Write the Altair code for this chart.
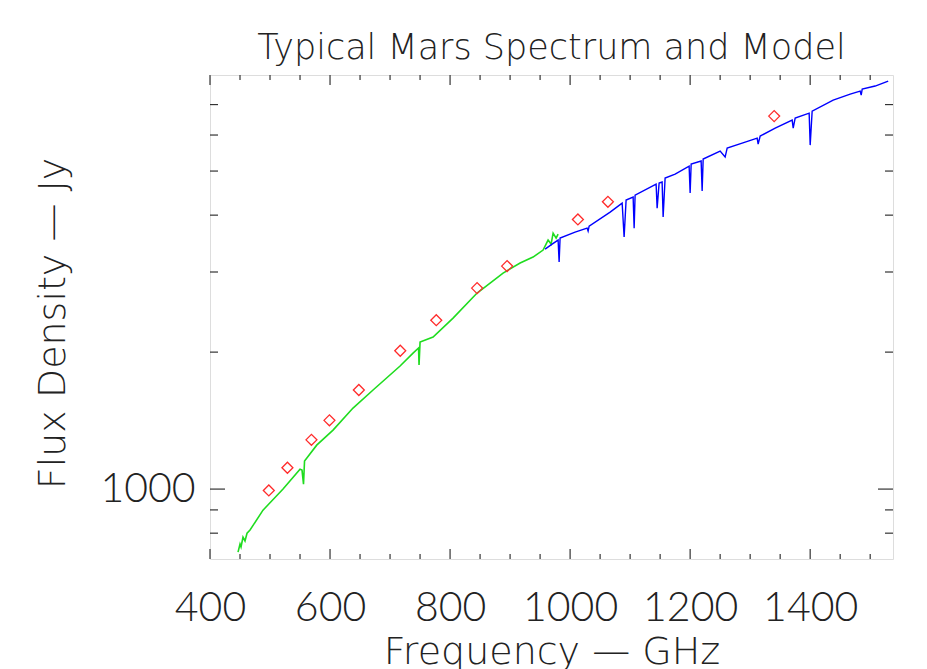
import altair as alt
import pandas as pd

# ---- data ----
green_freq = [446.7, 450, 451.7, 455, 458.3, 461.7, 466.7, 488.3, 521.7, 550, 553.3, 555.8, 557.5,
              577.8, 605, 638.3, 671.7, 716.7, 738.3, 747.5, 748.3, 750, 771.7, 805, 845,
              866.7, 888.3, 916.7, 938.3, 955, 963.3, 968.3, 971.7, 976.7, 980]
green_flux = [727, 757, 746, 784, 769, 800, 813, 899, 1000, 1106, 1101, 1025, 1152,
              1249, 1348, 1507, 1651, 1864, 1990, 2042, 1873, 2104, 2158, 2376, 2697,
              2836, 2984, 3139, 3235, 3352, 3526, 3455, 3652, 3562, 3634]

blue_freq = [958.3, 970, 980, 981.7, 983.3, 1008.3, 1028.3, 1030, 1031.7, 1066.7, 1086.7, 1090,
             1093.3, 1105, 1106.7, 1108.3, 1143.3, 1145, 1148.3, 1153.3, 1155, 1158.3, 1175,
             1198.3, 1200, 1201.7, 1218.3, 1220, 1221.7, 1250, 1258.3, 1261.7, 1291.7, 1311.7,
             1313.3, 1316.7, 1341.7, 1370, 1371.7, 1375, 1398.3, 1400, 1403.3, 1438.3, 1466.7,
             1483.3, 1485, 1486.7, 1508.3, 1530]
blue_flux = [3369, 3455, 3526, 3155, 3562, 3671, 3746, 3690, 3785, 4062, 4252, 3580,
             4317, 4383, 3746, 4428, 4681, 4145, 4705, 4729, 3961, 4826, 4924,
             5128, 4473, 5180, 5260, 4519, 5313, 5533, 5367, 5617, 5789, 5907,
             5731, 5968, 6215, 6471, 6215, 6536, 6704, 5702, 6772, 7161, 7381,
             7494, 7343, 7571, 7688, 7885]

model_freq = [498, 529, 569, 599, 648, 717, 777, 845, 895, 1013, 1063, 1340]
model_flux = [993, 1114, 1283, 1416, 1651, 2014, 2351, 2765, 3091, 3914, 4279, 6603]

x_major = [400, 600, 800, 1000, 1200, 1400]
x_minor = [450, 500, 550, 650, 700, 750, 850, 900, 950, 1050, 1100, 1150,
           1250, 1300, 1350, 1450, 1500]
y_major = [1000]
y_minor = [800, 900, 2000, 3000, 4000, 5000, 6000, 7000]

# ---- layout ----
W, H = 683, 484
TXT = "#222222"
LAB_FONT = "Lato"
TTL_FONT = "DejaVu Sans"

x_scale = alt.Scale(domain=[400, 1538], nice=False, zero=False)
y_scale = alt.Scale(type="log", domain=[702, 8130], nice=False)

x_axis = alt.Axis(values=x_major, format="d", title="Frequency \u2014 GHz",
                  ticks=False, tickSize=0, domain=False, grid=False,
                  labelFont=LAB_FONT, labelFontSize=41, labelFontWeight=300,
                  labelColor=TXT, labelPadding=61, labelBaseline="alphabetic",
                  labelFlush=False,
                  titleFont=TTL_FONT, titleFontSize=38, titleFontWeight=200,
                  titleColor=TXT, titleY=104, titleBaseline="alphabetic")
y_axis = alt.Axis(values=y_major, format="d", title="Flux Density \u2014 Jy",
                  ticks=False, tickSize=0, domain=False, grid=False,
                  labelFont=LAB_FONT, labelFontSize=41, labelFontWeight=300,
                  labelColor=TXT, labelPadding=15, labelAlign="right",
                  labelBaseline="middle",
                  titleFont=TTL_FONT, titleFontSize=38, titleFontWeight=200,
                  titleColor=TXT, titleX=-146, titleY=248, titleAngle=270,
                  titleAlign="center", titleBaseline="alphabetic")

df_green = pd.DataFrame({"freq": green_freq, "flux": green_flux})
df_blue = pd.DataFrame({"freq": blue_freq, "flux": blue_flux})
df_model = pd.DataFrame({"freq": model_freq, "flux": model_flux})

X = alt.X("freq:Q", scale=x_scale, axis=x_axis)
Y = alt.Y("flux:Q", scale=y_scale, axis=y_axis)

green = alt.Chart(df_green).mark_line(color="#1fdc1f", strokeWidth=1.6).encode(x=X, y=Y)
blue = alt.Chart(df_blue).mark_line(color="#0000ff", strokeWidth=1.4).encode(x=X, y=Y)
model = alt.Chart(df_model).mark_point(shape="diamond", filled=False, color="#ff2a2a",
                                       size=120, strokeWidth=1.3, opacity=1).encode(x=X, y=Y)

TICK = "#333333"

def xticks(vals, length):
    d = pd.DataFrame({"freq": vals})
    bot = alt.Chart(d).mark_rule(color=TICK, strokeWidth=1.2).encode(
        x=X, y=alt.value(H), y2=alt.value(H - length))
    top = alt.Chart(d).mark_rule(color=TICK, strokeWidth=1.2).encode(
        x=X, y=alt.value(0), y2=alt.value(length))
    return [bot, top]

def yticks(vals, length):
    d = pd.DataFrame({"flux": vals})
    left = alt.Chart(d).mark_rule(color=TICK, strokeWidth=1.2).encode(
        y=Y, x=alt.value(0), x2=alt.value(length))
    right = alt.Chart(d).mark_rule(color=TICK, strokeWidth=1.2).encode(
        y=Y, x=alt.value(W), x2=alt.value(W - length))
    return [left, right]

layers = [green, blue, model] + xticks(x_major, 10) + xticks(x_minor, 5) \
    + yticks(y_major, 15) + yticks(y_minor, 8)

chart = alt.layer(*layers).properties(
    width=W, height=H,
    autosize=alt.AutoSizeParams(type="none"),
    padding={"left": 202, "top": 67, "right": 26, "bottom": 110},
    title=alt.TitleParams("Typical Mars Spectrum and Model", font=TTL_FONT,
                          fontSize=35, fontWeight=200, color=TXT,
                          anchor="middle", offset=8),
).configure_view(stroke="#222222", strokeWidth=1.4).configure(background="white")

chart.save("out.html", embed_options={"renderer": "svg", "actions": False})
